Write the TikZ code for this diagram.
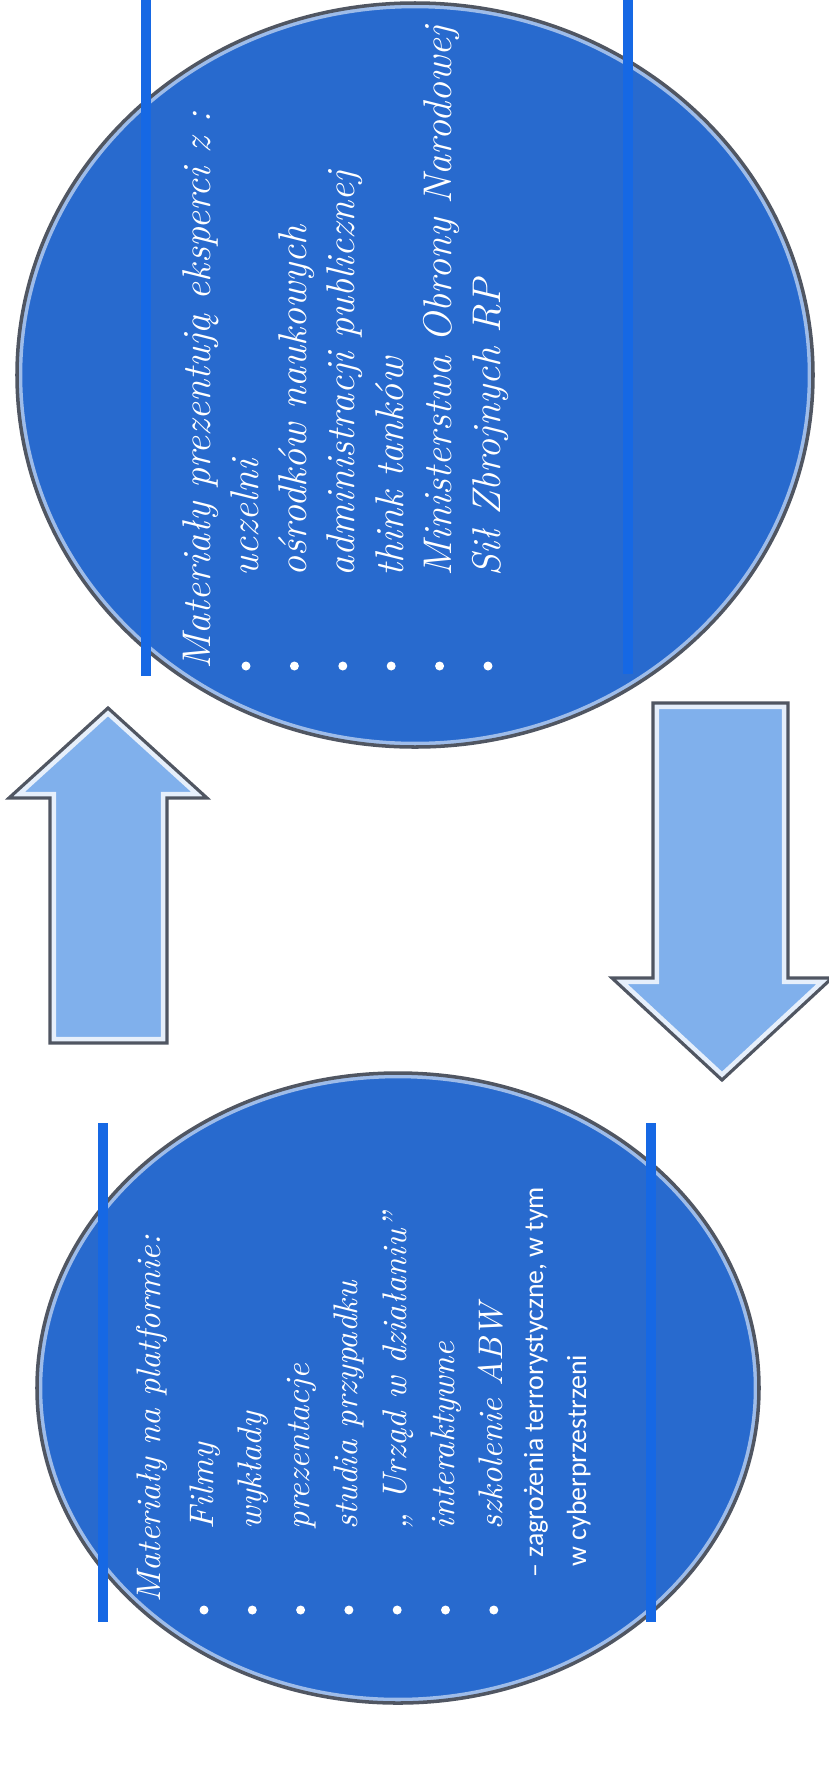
\documentclass[tikz,border=0pt]{standalone}
\usepackage{fontspec}
\setsansfont{Carlito}
\usetikzlibrary{calc}
\definecolor{discblue}{RGB}{40,106,206}
\definecolor{barblue}{RGB}{22,104,228}
\definecolor{arrblue}{RGB}{128,176,236}
\definecolor{rimgray}{RGB}{80,86,98}
\tikzset{
  disc/.style={fill=discblue},
  rimlight/.style={draw=white!55!discblue,line width=3pt},
  rim/.style={draw=rimgray,line width=1pt},
  bar/.style={barblue,line width=2.6pt},
  blockarrow/.style={fill=arrblue},
  arrowlight/.style={draw=white!80!arrblue,line width=3.5pt},
  arrowrim/.style={draw=rimgray,line width=0.9pt,line join=miter},
  bigtxt/.style={rotate=90,anchor=base west,inner sep=0pt,white,
    font=\fontsize{11.4}{14}\selectfont\itshape},
  smalltxt/.style={bigtxt,font=\fontsize{9.7}{12}\selectfont\itshape},
  notetxt/.style={bigtxt,font=\fontsize{7.9}{10}\selectfont\sffamily}
}

\begin{document}
\begin{tikzpicture}
\useasboundingbox (0,0) rectangle (8.28,-17.75);
\coordinate (topc) at (4.15,-3.75);
\coordinate (botc) at (3.98,-13.88);
% discs
\begin{scope}
\clip (topc) ellipse (3.98 and 3.72);
\fill[disc] (topc) ellipse (3.98 and 3.72);
\draw[rimlight] (topc) ellipse (3.98 and 3.72);
\end{scope}
\draw[rim] (topc) ellipse (3.98 and 3.72);
\begin{scope}
\clip (botc) ellipse (3.61 and 3.15);
\fill[disc] (botc) ellipse (3.61 and 3.15);
\draw[rimlight] (botc) ellipse (3.61 and 3.15);
\end{scope}
\draw[rim] (botc) ellipse (3.61 and 3.15);
% bars
\draw[bar] (1.46,0) -- (1.46,-6.76);
\draw[bar] (6.28,0) -- (6.28,-6.74);
\draw[bar] (1.03,-11.23) -- (1.03,-16.22);
\draw[bar] (6.51,-11.23) -- (6.51,-16.22);
% arrows
\begin{scope}
\clip (0.50,-10.43) -- (0.50,-7.98) -- (0.09,-7.98) -- (1.08,-7.08) -- (2.07,-7.98) -- (1.67,-7.98) -- (1.67,-10.43) -- cycle;
\fill[blockarrow] (0,-7) rectangle (2.2,-10.5);
\draw[arrowlight] (0.50,-10.43) -- (0.50,-7.98) -- (0.09,-7.98) -- (1.08,-7.08) -- (2.07,-7.98) -- (1.67,-7.98) -- (1.67,-10.43) -- cycle;
\end{scope}
\draw[arrowrim] (0.50,-10.43) -- (0.50,-7.98) -- (0.09,-7.98) -- (1.08,-7.08) -- (2.07,-7.98) -- (1.67,-7.98) -- (1.67,-10.43) -- cycle;
\begin{scope}
\clip (6.53,-7.03) -- (7.88,-7.03) -- (7.88,-9.78) -- (8.32,-9.78) -- (7.22,-10.80) -- (6.12,-9.78) -- (6.53,-9.78) -- cycle;
\fill[blockarrow] (6,-7) rectangle (8.4,-10.9);
\draw[arrowlight] (6.53,-7.03) -- (7.88,-7.03) -- (7.88,-9.78) -- (8.32,-9.78) -- (7.22,-10.80) -- (6.12,-9.78) -- (6.53,-9.78) -- cycle;
\end{scope}
\draw[arrowrim] (6.53,-7.03) -- (7.88,-7.03) -- (7.88,-9.78) -- (8.32,-9.78) -- (7.22,-10.80) -- (6.12,-9.78) -- (6.53,-9.78) -- cycle;
% texts
\node[bigtxt] (eksperci) at (2.10,-6.70) {Materiały prezentują eksperci z :};
\foreach \txt [count=\i] in {uczelni, ośrodków naukowych, administracji publicznej,
  think tanków, Ministerstwa Obrony Narodowej, Sił Zbrojnych RP} {
  \fill[white] ({2.46+0.484*(\i-1)},-6.66) circle (0.045);
  \node[bigtxt] (ekspert\i) at ({2.58+0.484*(\i-1)},-5.77) {\txt};
}
\node[smalltxt] (platforma) at (1.60,-16.03) {Materiały na platformie:};
\foreach \txt [count=\i] in {Filmy, wykłady, prezentacje, studia przypadku,
  „ Urząd w działaniu”, interaktywne, szkolenie ABW} {
  \fill[white] ({2.04+0.483*(\i-1)},-16.10) circle (0.045);
  \node[smalltxt] (material\i) at ({2.13+0.483*(\i-1)},-15.30) {\txt};
}
\node[notetxt] (uwaga1) at (5.43,-15.78) {– zagrożenia terrorystyczne, w tym};
\node[notetxt] (uwaga2) at (5.86,-15.67) {w cyberprzestrzeni};
\end{tikzpicture}
\end{document}
